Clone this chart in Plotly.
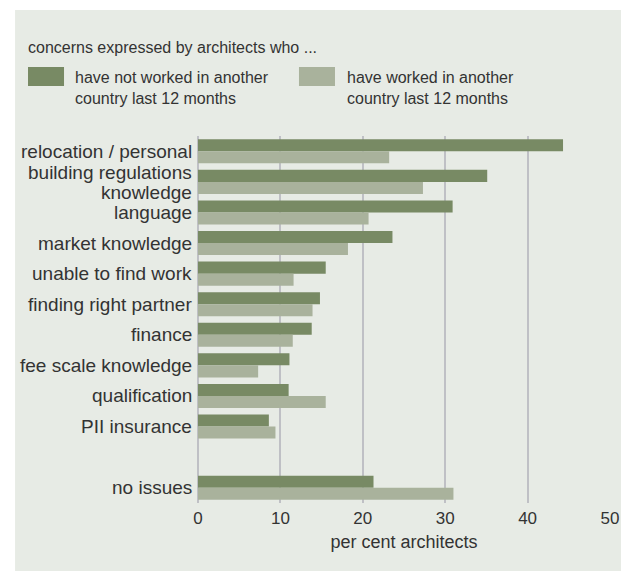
import plotly.graph_objects as go

# categories (top to bottom), blank slot before "no issues"
categories = ["relocation / personal", "building regulations<br>knowledge", "language",
              "market knowledge", "unable to find work", "finding right partner",
              "finance", "fee scale knowledge", "qualification", "PII insurance",
              " ", "no issues"]
not_worked_abroad = [44.3, 35.1, 30.9, 23.6, 15.5, 14.8, 13.8, 11.1, 11.0, 8.6, None, 21.3]
worked_abroad = [23.2, 27.3, 20.7, 18.2, 11.6, 13.9, 11.5, 7.3, 15.5, 9.4, None, 31.0]
series_names = ["have not worked in another<br>country last 12 months",
                "have worked in another<br>country last 12 months"]
x_ticks = [0, 10, 20, 30, 40, 50]

dark = "#788a64"
light = "#a9b29c"
txt = "#333333"
font = "Liberation Sans, Arial, sans-serif"

fig = go.Figure()
fig.add_trace(go.Bar(y=categories, x=not_worked_abroad, orientation="h",
                     marker=dict(color=dark, line_width=0), name=series_names[0]))
fig.add_trace(go.Bar(y=categories, x=worked_abroad, orientation="h",
                     marker=dict(color=light, line_width=0), name=series_names[1]))

# grey panel behind everything
fig.add_shape(type="rect", xref="paper", yref="paper", x0=-0.444, x1=1.05, y0=-0.2, y1=1.343,
              fillcolor="#e7ebe5", line_width=0, layer="below")

# category labels (drawn as annotations so the two-line one can be set tight)
for cat in categories:
    lines = cat.split("<br>")
    shifts = [0] if len(lines) == 1 else [9, -11]
    for line, ys in zip(lines, shifts):
        fig.add_annotation(text=line, xref="paper", yref="y", x=0, y=cat, xshift=-4, yshift=ys,
                           xanchor="right", yanchor="middle", showarrow=False,
                           font=dict(size=19, color=txt, family=font))

# legend swatches + text
fig.add_shape(type="rect", xref="paper", yref="paper", x0=-0.4126, x1=-0.3252, y0=1.136, y1=1.188,
              fillcolor=dark, line_width=0)
fig.add_shape(type="rect", xref="paper", yref="paper", x0=0.2451, x1=0.3325, y0=1.136, y1=1.188,
              fillcolor=light, line_width=0)
fig.add_annotation(text=series_names[0], xref="paper", yref="paper", x=-0.3035, y=1.131,
                   xanchor="left", yanchor="middle", align="left", showarrow=False,
                   font=dict(size=16, color=txt, family=font))
fig.add_annotation(text=series_names[1], xref="paper", yref="paper", x=0.3567, y=1.131,
                   xanchor="left", yanchor="middle", align="left", showarrow=False,
                   font=dict(size=16, color=txt, family=font))
fig.add_annotation(text="concerns expressed by architects who ...", xref="paper", yref="paper",
                   x=-0.4176, y=1.2425, xanchor="left", yanchor="middle", showarrow=False,
                   font=dict(size=16, color=txt, family=font))

fig.update_layout(
    width=621, height=571,
    margin=dict(l=198, r=11, t=136, b=68),
    paper_bgcolor="white", plot_bgcolor="rgba(0,0,0,0)",
    barmode="group", bargap=0.215, bargroupgap=0,
    showlegend=False,
    font=dict(family=font, size=16, color=txt),
)
fig.update_xaxes(range=[0, 50], tickvals=x_ticks, showgrid=True, gridcolor="#bfc0c5", gridwidth=2,
                 zeroline=True, zerolinecolor="#bfc0c5", zerolinewidth=2, showline=False,
                 ticks="", tickfont=dict(size=17, color=txt), ticklabelstandoff=3, automargin=False,
                 title=dict(text="per cent architects", font=dict(size=18, color=txt), standoff=8))
fig.update_yaxes(categoryorder="array", categoryarray=categories, autorange="reversed",
                 showgrid=False, zeroline=False, showline=False, ticks="", showticklabels=False,
                 automargin=False)

fig.write_html("out.html", config={"displayModeBar": False},
               post_script="document.body.style.margin='0';document.body.style.overflow='hidden';")
